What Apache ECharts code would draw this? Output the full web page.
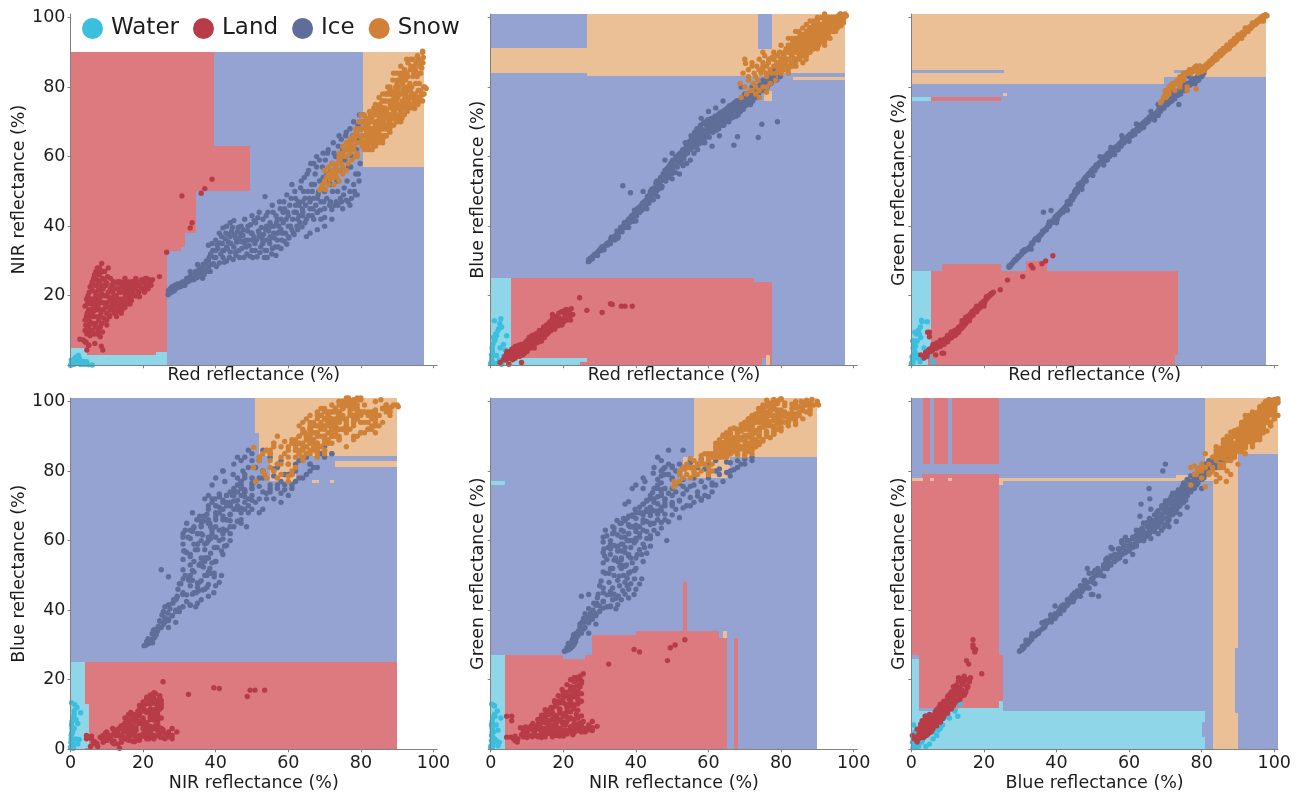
<!DOCTYPE html>
<html>
<head>
<meta charset="utf-8">
<style>html,body{margin:0;padding:0;background:#fff}#c{width:1301px;height:795px}</style>
<script src="https://cdn.jsdelivr.net/npm/echarts@6/dist/echarts.min.js"></script>
</head>
<body>
<div id="c"></div>
<script>
const classNames = ["Water","Land","Ice","Snow"];
const bandNames = ["Red","NIR","Blue","Green"];
const tickValues = [0,20,40,60,80,100];
const topLeftLabelValues = [20,40,60,80,100];

// Samples: [red, nir, blue, green] reflectance (%)
const waterRows = [[0,0,0.5,0.5],[0.2,0.3,1,0.5],[0.3,0.5,2,0.7],[0.5,0.2,4,0.8],[0.4,0.6,5,1.5],[0.6,1,6,3],[1,0.3,7,4],[0.8,0.4,8,6],[1.4,0.6,9,9],[2,1,10,10],[2.5,1.8,12,11],[2.8,0.3,13.4,13],[3,1,11,12.5],[2.2,2.8,10.5,9],[1.6,1.5,8.6,7],[1.2,2,7.4,5.5],[3.5,0.4,6,5],[4,0.3,4.4,4],[5,0.2,3,2.5],[6,0.1,2,1],[0.5,0.8,1,5],[0.4,0.2,0.6,7],[0.7,0.3,3,7],[1.8,0.5,0.5,3],[2.4,2,1.5,1],[3,0.8,0.3,2],[1,1.2,12.8,9.5],[4.4,1,8.5,12.5],[2.6,0.4,5,8],[0.2,1.5,3,2.5],[1.6,2.4,2.8,2],[3.6,1,2.6,3]];

const landRows = [[4.5,4.4,4,9.5],[5,5.8,3.8,9.5],[5,5.8,3,8.2],[3.5,7.3,1.6,2.1],[4,6.7,2.2,3.8],[2.6,7.5,0.8,3],[4.3,6.7,1.6,2.5],[6.7,6.3,2,3],[8.9,4.4,3,3.5],[8.5,5.5,0.8,3.5],[5,13.5,0.3,4],
[4,10,2.6,3.4],[4,13,1.5,3.6],[4,17,2.4,3.6],[4.4,19,3,3.8],[4.5,9,2,3.6],[4.6,15,3,3.6],[5,11,3,4],[5,14,2,4.2],[5,18,3.6,4],[5.2,21,3.5,4.4],[5.4,8.5,3.2,4.2],[5.6,16,3.8,4.6],[5.6,12,2.4,4.6],[5.8,23,3,4.8],[6,19,4,5],[6,10,4,4.8],[6.2,14,3.6,5],[6.4,25,3.4,5],[6.5,17,4.6,5.2],[6.6,9,3.2,5],[6.8,21,3,5.4],[7,12,4.6,5.4],[7,27,3.6,5.6],[7.2,16,5,5.6],[7.3,23,4,5.8],[7.4,19,3.4,5.6],[7.6,10,5,6],[7.8,26,4.5,6],[8,14,4,6],[8,28,4,6.2],[8.2,8.2,3.5,6.2],[8.2,18,5.6,6.4],[8.4,22,4.2,6.5],[8.6,29.3,5,6.6],[8.6,12,5.5,6.6],[8.8,25,5.2,6.8],[9,16,4.6,6.8],[9.2,20,6,7],[9.4,27,4.5,7],[9.6,13,5,7.2],[9.8,23,6.4,7.2],[10,18,5.5,7.6],[10,15,6.6,7.6],[10.2,25.5,5.6,8],[10.4,21,7,8],
[10.6,14.5,5,8],[10.9,16,6,8.2],[11,19,7.4,8.4],[11.4,23,6,8.6],[11.6,17,5.8,8.8],[12,15,7.6,9.2],[12,20,8.4,9.4],[12.4,18,6.4,9.6],[12.7,23.6,7,10],[12.7,14,6.6,9.8],[13,17,9,10.4],[13.4,21,7.6,10.8],[13.6,16,8,11],[14,19,9.6,11.4],[14,23,8.4,11.6],[14.5,17,8.4,12],[15,21,10.6,12.6],[15,18,9.4,12.4],[15.4,23,9.4,12.8],[15.8,19,11,13.4],[16,22,9.6,13.8],[16.4,17.6,10,14],[16.8,24,11,14.6],[17,20,11.6,14.8],[17.3,20.7,13,15.4],[17.6,22.5,10.4,15.6],[18,25,12,16],[18.2,20,13.6,16],[18.6,23,11.4,16.6],[19,19.7,12.6,17.2],[19.5,22,15.4,17.6],[20,24,12.4,18.4],[20.4,21,14.6,18.6],[20.7,23.4,16,19.7],[21,25,13,19.6],[21.4,22,15,20],[21.8,24,14,20.4],[22.2,23,16.3,20.6],[22.6,24.6,14.6,21],
[24.5,25.5,19.4,21.7],[26.5,32.5,15.8,24.5],[33,39.5,17.7,28.7],[33.5,41,17.5,28],[30.7,48.7,15.2,25.5],[36,49.5,17,29.2],[37,50.8,17,30],[39,53.5,17,31.5],
[4.2,11.5,2,3.6],[4.4,14,3.4,3.4],[4.6,17.6,2.2,4],[4.8,20,3.8,3.8],[4.8,9.6,3.6,4.4],[5,16,3,4.6],[5.2,12.6,4,4],[5.4,19,2.6,4.8],[5.4,22.6,4,4.2],[5.6,10,2.6,4.2],[5.8,14.6,3.6,5],[5.8,17.6,4.6,4.4],[6,21.6,3,5],[6,24,4,5.4],[6.2,12,4.2,5.4],[6.4,19,3.2,5.6],[6.4,15.6,5,4.8],[6.6,23,3.6,5.6],[6.6,26,3,5],[6.8,11,4,5.8],[6.8,17.6,5.4,5],[7,20,3.8,5],[7,14,3,5.8],[7.2,24.6,4.6,6],[7.4,9,4,6],[7.4,28,3,5.4],[7.6,16.6,4,6.2],[7.6,21.6,5.6,5.4],[7.8,13,5.8,5.8],[8,19,3.4,6],[8,24,5.4,6.4],[8.2,11,3,6.6],[8.2,26.6,3.6,6],[8.4,15,6,6],[8.6,20.6,4.6,7],[8.8,9.6,4.6,6.4],[8.8,23,6,6.4],[9,18,3.6,7.4],[9,27,5,6.6],[9.2,13.6,6,7.2],[9.4,24.6,3.6,7.6],[9.6,16.6,6.6,6.8],[9.8,20,4.4,7.8],[10,11.6,6,7.4],[10,23.6,7,7.2],[10.2,17,4.6,8.4],[10.4,28,6,8],[10.6,19.6,8,7.8],[10.8,14,6.8,8.8],[11,22,5,9],[11.2,16,7.6,8],[11.4,18,8.6,9],[11.6,21,5.6,9.4],[11.8,24,7,9],[12,17.6,6,9.8],[12.2,22,8.6,8.8],[12.4,15,9,10],[12.6,20,7,10.2],[12.8,18,8,9.4],[13,22,6.6,10.8],[13.2,15.6,8.6,11],[13.4,19,10,10.4],[13.6,24,7,11.2],[13.8,17,9,10.6],[14,21,7.6,12],[14.2,16,10,11],[14.4,22,9,12.4],[14.6,19,11,11.6],[14.8,24,8,13],[15,16.6,10.6,12],[15.2,20,9,13.4],[15.4,22,11.6,12.6],[15.6,17.6,9,13.6],[15.8,24,10,14.2],[16,20,12,13.4],[16.2,22,10.6,14.6],[16.4,19,12.6,14],[16.6,23,10,15.2],[16.8,18.6,11,15.4],[17,21.6,13.4,14.4],[17.4,24,12,15.8],[17.8,20,11,16.4],[18,22,14,15.4],[18.4,24,13,16.8],[18.8,21,15,16.4],[19.2,23,13.4,17.8],[19.6,24.6,11.6,18],[20.2,22,15.6,18],[20.6,25,14,19],[21,23,16,19.4],[21.6,24.6,15.4,20],[22,23.6,13,20.6],
[6,15,3,6],[8,20,4,5.4],[10,17,7,6.8],[12,19,8,8.6],[14,18,10,12.8],[16,21,11,12.8],[18,23,14,17],[20,22,13,17],[11,25,6,9.6],[9,22,3.4,6],[7,18,2.6,6.4],[13,24,9,9.4],[15,25,9,13.8],[17,23,14.6,15.6],[6,12,1.6,5.8],[8,16,2.6,7.2],[10,13,4,8.6],[12,16,5,10],[14,15,7,11.4]];

const iceRows = [[26.9,20.3,29.8,28.2],[27,21.5,30.4,28.6],[27.2,20.8,30,28.4],[27.5,22,30.8,29],[27.8,21,31,29.2],[28,22.6,30.6,29.6],[28.3,21.6,31.5,30],[28.8,23,32,30.2],[29,22,31.6,30.6],[29.5,23.4,32.6,31],[30,22.5,33.2,31.6],[30.4,23.6,33,32],[31,24,34,32.6],[31.5,23,34.4,33],[32,25,35,33.4],[32.6,24.2,35.3,34],[33,25.6,36,34.6],[33.5,26,36.6,35],[34,24.6,37,36],[34.5,27,37.4,36.4],[35,26,37.8,37],[35.5,28,38.4,37.4],[36,26.8,39.2,38],[36.5,29,40,38.4],[37,27.4,40.4,39],[37.4,30,40.6,39.6],[38,28.2,42,40],[38,34.5,41,40.4],[38.6,32,42.5,41],[39,35,42,41.6],[39.4,29.2,43.4,42],[40,31,44.5,42.4],[40,36,43,43],[40.6,33.6,44.6,43],[41,35.2,45.5,44],[41,29.4,44,43.6],[41.6,37,46,44.6],[42,31,45,45],[42.3,33,47,45.4],[42.8,38,47.4,46],[43,30,47.6,47],[43.4,35.5,48,47],[44,37,50,48],[44,32.6,48.6,48],[44.6,39.6,49.6,49],[45,34,51,50],[45.5,36.6,52.4,50],[45.6,31.6,50,50.6],[46,38.4,52,51],[46.4,33,53,52],[47,40,54,52],[47,35.6,53,52.6],[47.5,37.4,55,53],[47.8,31,54.6,53.6],[48,42,56,54],[48.4,34,54,54.4],[48.8,38.6,56.4,55],[49,36,55,55],[49.4,31.4,57,55.6],[49.6,40.4,58,56],[50,33,56,56],[50,43,58.6,56.4],[50.5,37,57.4,56.6],[50.8,35,59,57],[51,41,60,57.4],[51.4,31.2,57,57.6],[51.8,38.6,60.6,58],[52,44,60,58.4],[52.4,34,59,58.6],[52.8,36.4,61.6,59],[53,42,60.5,59],[53.4,31,62,59.6],[53.6,48.5,64,60],[53.8,39,62,60],[54,33,63,60],[54.4,44,62,60.6],[54.8,36,64.4,61],[55,41,63,61],[55.4,32,65,61.4],[55.6,46,65.6,62],[56,38,65,62],[56.4,34,64,62.4],[56.6,43,66,62.6],[57,36,65.6,63],[57.4,40,67,63.4],[57.6,47,66,63.6],[58,33.6,68,64],[58.4,38,66,64.4],[58.6,44,67.4,64.6],[59,35.6,67,65],[59.4,42,69,65.2],[59.6,49,68,65.4],[60,37,67,65.7],[60.4,46,69,66],[60.6,40,70,66.4],[61,52,68,66.6],[61.4,38,69,67],[61.6,44,71,67.2],[62,48,69,67.6],[62.4,40,70,68],[62.6,42,71.6,68],[63,46,69.6,68.5],[63.4,51,71,69],[63.8,39.8,72,69],[64,44,70,69.6],[64.4,54,72,70],[64.6,48,72.6,70],[65,42,71,70.5],[65.4,50,73,70.6],[65.6,56,72,71],[66,45,74,71],[66.4,52,72,71.4],[66.6,43,73,71.6],[67,58,73.6,72],[67,48,74,72],[67.4,55,75,72.4],[67.8,60,73,72.6],[68,44,74,73],[68.4,50,75,73],[68.6,53,74,73.4],[69,47,75.6,73.6],[69.4,57,75,74],[69.6,61,76,74],[70,45,75,75],[70,50,76.6,75],[70.6,55,76,75.6],[71,62,77,76],[71.4,46,76,76],[71.6,52,78,76.4],[72,58,77,77],[72.4,64,78,77],[72.8,46,78,77.6],[73,60,79,78],[73.6,50,78,78],[74,66,80,78.6],[74.4,48,79,79],[75,62,80,80],[75.4,51,81,80],[76,67,81,80.4],[76,47.5,80,80.6],[76.6,57,82,81],[77,68,81,81],[77,50,83,81.4],[77.6,60,82,81.6],[78,52,83,82],[78,70,84,82],[78.6,55,84,82.4],[79,65,84,82.6],[79.3,55,85,83],[79.6,72,85,83],[80,68,86,83],[80.6,72,85,84],
[36.4,25,51.6,44],[38.5,27,49.6,44.5],[42,33,50,44.5],[67,42,63.3,70.5],[68,44,65.7,72],[74.7,47,69.3,80],[73.7,46,65.5,75],[79,49,70,82],[78.5,49,86,86],[79.5,53,86,86],[76.5,47,83,83],[75,45,82,81],[77,46,84,84],[72,42,80,78],[70,40,78,76],[69,42,80,75],[68,39,76,75],[66,38,73,71.2],[65,37,72,70.5],[70,42.5,77,77],[72,44.8,79,79.4],
[28.6,21.4,31.8,30.4],[29.4,22.6,31.6,31.4],[30.6,22.8,34,32.8],[31.2,23.4,33.2,33.2],[32.2,24,34.6,33.6],[33.2,24.6,36.8,35.2],[34.2,25.6,36,36.4],[34.8,25.2,38.6,36.6],[35.2,27,37,36.8],[35.8,25.6,39.6,37.6],[36.2,28,38.4,38.6],[36.8,26,41,39],[37.2,29,39.6,39],[37.8,27,41.6,40.4],[38.2,31,41,40.6],[38.8,29,43,41.4],[39.2,33,41.4,41.2],[39.6,31,44.6,42.6],[40.2,28.4,43,42],[40.4,34.6,45,43.4],[41.4,32,44.4,44.4],[41.8,35,46.6,44],[42.4,29.6,46,44.6],[42.6,36.4,45.8,45.6],[43.2,33.6,48.6,46.4],[43.6,37.6,46.6,47],[43.8,31,49,46.4],[44.2,35,47.8,48.6],[44.4,38.6,50.6,47.6],[44.8,30.4,47.6,48.4],[45.2,37.6,50,49.2],[45.4,32.6,49,50.6],[45.8,35.4,53,49.8],[46.2,39.6,50.6,51.4],[46.6,31,51.6,51],[46.8,37,54,52.6],[47.2,33.6,51.4,52],[47.6,39,53.6,53.6],[48.2,36,53,53],[48.6,32,56.6,54.6],[48.9,40,54,55],[49.2,34.4,57.4,55],[49.8,38,55,55.6],[50.2,31,59,56.6],[50.6,41.6,57,56],[50.9,33,55.4,57.6],[51.2,36,60,57],[51.6,42.4,58.4,58],[52.2,32.4,61,58],[52.6,39.6,58,59.4],[52.9,35,62,58.4],[53.2,37.6,59.4,60],[53.6,33,60.6,59],[53.9,43,63,60.6],[54.2,31,61,61],[54.6,38.6,64,60],[54.9,35,62,61.6],[55.2,40,66,60.6],[55.6,33.6,62.6,62],[55.8,44,64,61.4],[56.2,36.6,67,62.6],[56.6,31.6,63,63],[56.8,41,68,62],[57.2,34,63.6,63.6],[57.6,38.4,65,64],[57.8,45,69,63],[58.2,36,64,65],[58.6,41,69.6,64],[58.8,47,65,65.2],[59.2,38,70,64.6],[59.6,34.8,66,65.8],[59.8,44,70.6,65],[60.2,36.6,65.6,66.4],[60.8,48,71,66],[61.2,42,67,67.4],[61.6,37.6,67.6,66.4],[61.8,50,71.6,67.4],[62.2,44,67.6,68],[62.6,39,72,67.4],[62.8,47,68,68.6],[63.2,41,72.6,68],[63.6,53,69,69.4],[63.9,45,73,68.6],[64.2,50,69,70],[64.6,41,73.4,69.6],[64.8,46,70,70.6],[65.2,55,74,70],[65.6,43,70,71.4],[65.8,48,74.6,70.8],[66.2,58,71,71.6],[66.6,50,75,71],[66.8,45,71.4,72],[67.2,52,75.6,71.6],[67.6,46,71.6,72.6],[67.8,57,76,72.8],[68.2,49,72,73.6],[68.6,59,76,73],[68.8,44.6,73,73.8],[69.2,51,77,74],[69.6,54,73.6,74.6],[69.8,47,77,74.6],[70.2,59,74.6,75.4],[70.6,48,78,75],[70.8,61,75,76],[71.2,53,78,75.6],[71.6,47,75,76.6],[71.8,56,78.6,76],[72.2,50,76,77.6],[72.6,61,79,76.6],[73.2,47,77,78.6],[73.4,53,80,77.6],[73.8,63,78,79],[74.2,56,80.6,78],[74.6,65,79,79.6],[75.2,49,81,79],[75.6,59,79,80.6],[75.8,66,82,80],[76.2,53,80,81],[76.8,63,83,80.6],[77.2,57,81,82],[77.4,48,84,81],[77.8,66,82,82.4],[78.2,50,85,81],[78.8,62,82,83],[79.2,69,85,82],[79.8,58,83,83.4],[80.2,70,87,83.4],
[41,38,44,43.5],[42,39.5,45,44.5],[43,40,47,46],[44,41,48,47.5],[45,41.6,50,49],[55,37,59,61],[57,42,62,63],[59,45,64,65],[61,39,63,67],[63,43,66,69],[58,39,71,64],[60,43,73,65.5],[62,46,74,67.6],[64,47,76,69.6],[52,37,55,58],[54,40,58,60],[50,38,61,56],[48,35,59,54],[46,36,48.5,52],[52,38,60,60],[55,40,64,62.6],[58,42,66,66],[62,44,70,69.4],[66,47,73,73],[54,36,62,59],[57,38,65,62],[60,40,68,64.4],[64,43,71,68.4],[68,48,74,71.8],[40,33,41.5,41],[35,29,36.5,36],[33,27,35,33.4],[38,30,39.6,41.2],[43,34,45,44.6],[47,38,51,50.6],[50,36,53.6,54.6],[53,35,57.4,57.6],[56,40,61,60.6]];

const snowRows = [[68.7,50.4,81,75.5],[69,51,77,76],[69.5,52,84,77],[70,53,80,78],[70.2,50.5,86.8,77],[70.5,54,78,79],[71,52,83,80],[71,55,85,78],[71.5,53.5,79,80.5],[72,56,87,80],[72.4,55,81,81],[72.6,52,84,79],[73,57,78,81.5],[73.3,54,86,82],[73.6,58,82,82],[74,60,77,81],[74,56,88,83],[74.5,58,84,83],[75,61,80,82],[75,55,86,83.6],[75.5,62,89,84],[76,60,78.5,79],[76,64,83,84],[76.5,58,87,84.5],[77,65,85,84],[77,62,81,85],[77.5,59,88.5,85],[78,66,86,85],[78,63,90,85.6],[78.5,60,82,79.5],[78.6,68,84,86],[79,64,87,85],[79,61,89,84],[79.4,70,85,86],
[80,66,88,85],[80.4,63,86,85.6],[80.6,70,89,85],[81,72,90,86],[81,64,86,86],[81.6,67,88,86.6],[82,62,84,87],[82,69,90,87],[82.4,73,91,87],[82.8,65,87,87.6],[83,71,89,88],[83.4,63,90,88],[83.6,68,91,88.4],[84,75,92,88.6],[84,65,87,89],[84.4,70,90,89],[84.6,73,93,89],[85,67,91,89.6],[85,77,92,89.6],[85.4,71,94,90],[85.8,65,89,90],[86,74,92,90],[86,78,90,90.6],[86.4,68,93,91],[86.8,72,95,91],[87,66,90,91],[87,76,94,91.4],[87.4,80,91,91.6],[87.8,70,92,92],[88,74,95,92],[88,67,93,92.4],[88.4,78,96,92.6],[88.8,82,92,93],[89,72,94,93],[89,69,96,93.4],[89.4,76,93,93.4],[89.6,80,97,94],[90,71,95,94],[90,84,93,94],[90.4,74,97,94.4],[90.6,78,96,94.6],[91,86,94,95],[91,73,98,95],[91.4,76,95,95],[91.8,82,97,95.6],[92,72,97,96],[92,85,93,96],[92.4,78,98,96],[92.6,88,96,96.4],[93,74,96,97],[93,83,95,96.8],[93.4,77,99,97],[93.8,86,98,97.4],[94,75,98,98],[94,80,97,97.6],[94.4,88,97,98],[94.8,73.8,96,98],[95,78,100,98.5],[95,85,96,98.5],[95.4,76,99,99],[95.6,89,99,99],[96,77,100,99.4],[96,84,100,99.4],[96.4,79,101,100],[96.6,87,99,100],[97,76,100,100.4],[97,90,99,100],[97.4,78,100,100.6],[97.6,80,101,100.8],[98,79.6,100.5,100.5],[97.2,88.5,98.5,100.6],[96.8,85.5,100.5,100],[97,90.3,98.5,99],
[88,70,97,93],[89,73,98,94],[90,75,99,94],[91,71,96,95],[92,74,99,97],[86,68,95,91],[87,71,96,92],[85,66,93,90],[83,64,92,88],[84,67,94,89],[82,66,92,87],[86,73,97,91],[88,76,99,93],[90,78,100,95],[91,70,93,94],[84,72,88,89],[86,76,87,90],[88,79,90,92],[90,81,91,94],[92,83,92,96],[85,70,90,90],[87,73,91,91],[89,75,92,93],[83,67,86,88],[81,68,85,86],[80,72,92,85],[82,71,94,87],[84,69,96,89],
[72,54,86,81],[73,56,80,81],[74,59,85,82],[75,60,87,83],[76,62,86,84],[76.6,63,88,85],[77.4,64,84,84.6],[78.2,65,89,85],[78.8,67,87,85.6],[79.2,66,85,85],[79.6,68,90,86],[80.2,68,87,84.6],[80.8,66,89,85.6],[81.2,69,87,86.4],[81.4,71,91,85.6],[81.8,65,90,86],[82.2,68,88,87.4],[82.6,72,92,86.6],[82.9,67,89,87],[83.2,70,93,88.4],[83.6,74,90,87.6],[83.8,66,92,88.8],[84.2,72,91,88],[84.8,69,92,89.4],[85.2,75,95,89],[85.2,68,93,90.4],[85.6,72,91,90],[85.9,76,93,90.6],[86.2,70,95,90.2],[86.6,74,92,91.4],[86.8,78,94,90.6],[87.2,69,96,91.6],[87.6,72,93,91],[87.9,78,95,92.4],[88.2,71,97,92],[88.6,76,93,93],[88.9,74,96,92.4],[89.2,79,95,93.6],[89.4,71,93,93],[89.8,74,97,94],[90.2,77,98,94.2],[90.8,72,94,94.8],[90.8,82,96,94.6],[91.2,75,98,95.4],[91.6,79,95,95],[91.6,84,94,95.6],[92.2,75,100,96],[92.8,80,96,96.6],[92.8,73,95,96],[93.2,76,100,97],[93.6,85,96,97],[93.6,79,98,97.6],[94.2,77,100,98],[94.6,84,96,98.2],[94.8,76,99,98.6],[95.2,75,98,98.4],[95.2,87,98,99],[95.8,79,100.5,99.4],[96.2,86,98,99.6],[96.2,76,100,99],[96.8,78,100,100.4],[97.2,78,100.5,100],[93,87,97,97],[92,80,94,95.8],[91,83,93,95],[90,82,92,94],[89,84,91,93.4],[88,80,91,92.6],[87,78,89,91.6],[86,72,90,91],[85,74,89,90],[84,70,88,89.4],[83,68,87,88],[82,64,86,87],[81,62,87,86],[80,64,84,85],[79,60,86,85],[78,62,88,84.6],
[89,72,99,93],[90,70,98,94],[91,74,100,95],[92,76,101,96],[93,75,100,97],[94,74,100,97.6],[88,68,97,92],[87,66,96,92],[86,65,95,91],[85,64,94,90],[84,63,93,89],[87,69,98,91.5],[85,68,96,90],[83,66,94,88],
[70,56,88,79],[71,57,82,79],[72,58,79,80],[73,55,83,81],[74,53,85,81],[74,61,79,80],[75,57,90,82],[76,60,84,84],[76,56,80,80],[77,61,88,85],[75,63,85,84],
[80.3,65,85,85.4],[80.8,68,87,84.8],[81.3,63,88,86],[81.7,70,86,86.4],[82.1,65,90,86.4],[82.5,70,86,87.2],[83.1,62,86,88],[83.3,73,92,87.6],[83.7,64,88,88.2],[84.1,68,86,89],[84.3,74,94,88.4],[84.7,66,90,89.4],[85.1,71,88,89.8],[85.3,64.6,91,90],[85.7,69,93,89.6],[85.9,74,89,90.4],[86.1,66,92,90.8],[86.3,71,94,90.4],[86.7,76,91,91],[86.9,68,88,91.2],[87.1,73,90,91.6],[87.3,78,96,91],[87.7,67.6,91,92],[87.9,72,97,92],[88.1,75,92,92.6],[88.3,69,94,92.2],[88.7,78,94,93],[88.9,71,91,93],[89.1,77,97,93],[89.3,73,94,94],[89.7,70,95,93.4],[89.9,76,92,94],[90.1,79,96,94.4],[90.3,72,92,94.6],[90.5,80,94,94.4],[90.7,75,96,95],[90.9,84,95,95],[91.1,78,93,95.6],[91.3,71,97,95],[91.5,81,97,95.6],[91.7,74,94,95.4],[92.1,77,96,96],[92.3,82,94,96.4],[92.5,73,98,96.4],[92.7,84,97,96.4],[93.1,79,97,97.2],[93.3,75,98,96.8],[93.5,81,94,97],[93.7,88,97,97.4],[94.1,78,99,97.8],[94.3,83,96,98],[94.5,75,100,98],[94.7,86,98,98.4],[95.1,81,97,98.8],[95.3,77,100,98.6],[95.5,83,97,99.2],[95.7,75,99,99],[95.9,88,98,99.4],[96.1,81,99,99.6],[96.3,76.6,101,99.6],[96.5,84,97.6,100],[96.7,78,100,100],[97.1,87,99,100.4],[97.3,80,100.5,100.6],[86,64,91,90.4],[88,72,95,92.8],[90,74,96,94.6],[92,79,99,96.2],[94,78,100,98.4],[84,66,91,88.6],[82,63,85,86.6],[80,70,88,84.4]];

// Decision regions per panel: [class, x0, y0, x1, y1] in axis units, painted in order
const regionsRedNir = [["Ice",0,0,97.5,90],["Land",0,0,26.5,90],["Land",26.5,33,30.5,90],["Land",30.5,34,31.6,90],["Land",31.6,38,34.6,90],["Land",34.6,50,39.4,90],["Land",39.4,50,49.5,63],["Water",0,0,4.5,5],["Water",4.5,0,23.5,3],["Water",23.5,0,26.5,3.9],["Snow",80.5,57,97.5,90]];
const regionsRedBlue = [["Ice",0,0,97.7,101],["Snow",0,84.1,26.5,91.1],["Snow",26.5,83.1,73.6,101],["Snow",73.6,83.1,77.6,91],["Snow",77.6,84.1,97.7,101],["Snow",83.4,82,97.7,83],["Snow",75.4,76,77.6,79],["Land",5.6,0,72.5,25.2],["Land",72.5,0,77.6,24],["Water",0,0,5.6,25.2],["Water",5.6,1,24.6,2.1],["Water",5.6,0,24.6,1],["Water",24.6,1,26.5,2.1],["Ice",74.8,0,75.8,2.2],["Snow",75.8,0,76.9,3.1]];
const regionsRedGreen = [["Ice",0,0,97.6,101],["Snow",0,81,69.5,101],["Snow",69.5,83,97.6,101],["Ice",0,84,25.5,85],["Ice",72.5,84,76,85],["Land",5.5,76,24.6,77],["Water",0,76,5.5,77],["Snow",25.2,77.3,26.3,78.3],["Land",5.5,3,73.5,27],["Land",4.5,0,72.6,3],["Land",8.5,27,24.6,29],["Land",31.5,27,37.5,30],["Water",0,3,5.5,27],["Water",0,0,4.5,3]];
const regionsNirBlue = [["Ice",0,0,90,101],["Land",4,0,90,25],["Water",0,0,4,25],["Water",4,0.5,5,13],["Snow",50.9,91,90,101],["Snow",52,84.2,90,91],["Snow",73,81.1,90,83],["Snow",55,77,62,84.2],["Snow",66.5,76.5,68.5,77.3],["Snow",71.5,76.5,72.5,77.3]];
const regionsNirGreen = [["Ice",0,0,90,101],["Water",0,0,4,27],["Water",0.2,76,4,77],["Land",4,0,65,26],["Land",4,26,20,27],["Land",26,26,28,27],["Land",28,26,65,32],["Land",28,32,63,33],["Land",40,33,63,34],["Land",53,34,54,48],["Snow",64,32,65,34],["Land",66.9,0,68,32],["Snow",55.9,84,90,101],["Snow",53,78,66,84]];
const regionsBlueGreen = [["Ice",0,0,101,101],["Land",3.1,82.1,5.1,101],["Land",6.2,82.1,10.1,101],["Land",11.1,82.1,24.2,101],["Land",3,77,24.2,79.1],["Land",0,27,24.2,77],["Snow",0,77,3.1,78],["Snow",5.1,77,6.2,78],["Snow",10.1,77,11.1,78],["Snow",24.2,76,25.2,78],["Snow",25.2,77,73,78],["Land",2.1,12,24.2,27],["Land",24.2,13.9,25.2,27],["Water",0,0,2.1,26],["Water",2.1,0,81,11],["Water",13,11,24.2,12],["Water",24.2,11,25.2,13.9],["Ice",80,3.6,81,7.8],["Snow",83,0,90,85],["Snow",81,85,101,101],["Snow",81,80,83,85],["Snow",73,77,83,79],["Ice",89.1,10.5,90,29]];

const pointColors = {Water:"#3bbfde",Land:"#b83c48",Ice:"#5f6e99",Snow:"#cf8237"};
const regionColors = {Water:"#8ed6e8",Land:"#dc7a80",Ice:"#94a3d1",Snow:"#ecc096"};
const rowsByClass = {Water:waterRows,Land:landRows,Ice:iceRows,Snow:snowRows};

const panels = [
 {x:0,y:1,regions:regionsRedNir,left:70.5,top:14,showX:false,showY:true,yLabels:topLeftLabelValues},
 {x:0,y:2,regions:regionsRedBlue,left:490.7,top:14,showX:false,showY:false,yLabels:tickValues},
 {x:0,y:3,regions:regionsRedGreen,left:911.3,top:14,showX:false,showY:false,yLabels:tickValues},
 {x:1,y:2,regions:regionsNirBlue,left:70.5,top:398,showX:true,showY:true,yLabels:tickValues},
 {x:1,y:3,regions:regionsNirGreen,left:490.7,top:398,showX:true,showY:false,yLabels:tickValues},
 {x:2,y:3,regions:regionsBlueGreen,left:911.3,top:398,showX:true,showY:false,yLabels:tickValues}
];

const FONT = "DejaVu Sans", TXT = "#1c1c1c", AXIS = "#808080";
function axisBase(show,labels){
  return {
    type:"value",min:0,max:101,z:5,splitLine:{show:false},
    axisLine:{show:true,lineStyle:{color:AXIS,width:1}},
    axisTick:{show:true,length:3,customValues:tickValues,lineStyle:{color:AXIS,width:1}},
    axisLabel:{show:show,customValues:labels,color:TXT,fontFamily:FONT,fontSize:17.5,margin:5,hideOverlap:false},
    nameLocation:"middle",nameMoveOverlap:false,
    nameTextStyle:{color:TXT,fontFamily:FONT,fontSize:17.5}
  };
}
const grid=[],xAxis=[],yAxis=[],series=[];
panels.forEach((p,i)=>{
  grid.push({left:p.left,top:p.top,width:366.6,height:351.3});
  xAxis.push(Object.assign(axisBase(p.showX,tickValues),{gridIndex:i,name:bandNames[p.x]+" reflectance (%)",nameGap:p.showX?25:1.5}));
  yAxis.push(Object.assign(axisBase(p.showY,p.yLabels),{gridIndex:i,name:bandNames[p.y]+" reflectance (%)",nameGap:p.showY?42:3}));
  const rows=p.regions;
  series.push({
    type:"custom",silent:true,xAxisIndex:i,yAxisIndex:i,z:1,clip:true,
    encode:{x:[0,2],y:[1,3]},
    data:rows.map(r=>r.slice(1)),
    renderItem:(params,api)=>{
      const a=api.coord([api.value(0),api.value(1)]),b=api.coord([api.value(2),api.value(3)]);
      const x0=Math.round(a[0]),x1=Math.round(b[0]),y0=Math.round(a[1]),y1=Math.round(b[1]);
      return {type:"rect",shape:{x:x0,y:y1,width:x1-x0,height:y0-y1},style:{fill:regionColors[rows[params.dataIndex][0]]}};
    }
  });
  classNames.forEach((c,k)=>{
    series.push({
      type:"scatter",name:c,xAxisIndex:i,yAxisIndex:i,z:2+k,clip:true,silent:true,
      symbol:"circle",symbolSize:5.4,
      itemStyle:{color:pointColors[c],opacity:1},
      data:rowsByClass[c].map(r=>[r[p.x],r[p.y]])
    });
  });
});

const chart=echarts.init(document.getElementById("c"),null,{renderer:"canvas"});
chart.setOption({
  animation:false,backgroundColor:"#fff",
  legend:{data:classNames.map(n=>({name:n,icon:"circle"})),left:77,top:12,itemWidth:21,itemHeight:21,itemGap:14,selectedMode:false,
    textStyle:{color:TXT,fontFamily:FONT,fontSize:23,padding:[0,0,0,3]}},
  tooltip:{show:false},
  grid,xAxis,yAxis,series
});
</script>
</body>
</html>
